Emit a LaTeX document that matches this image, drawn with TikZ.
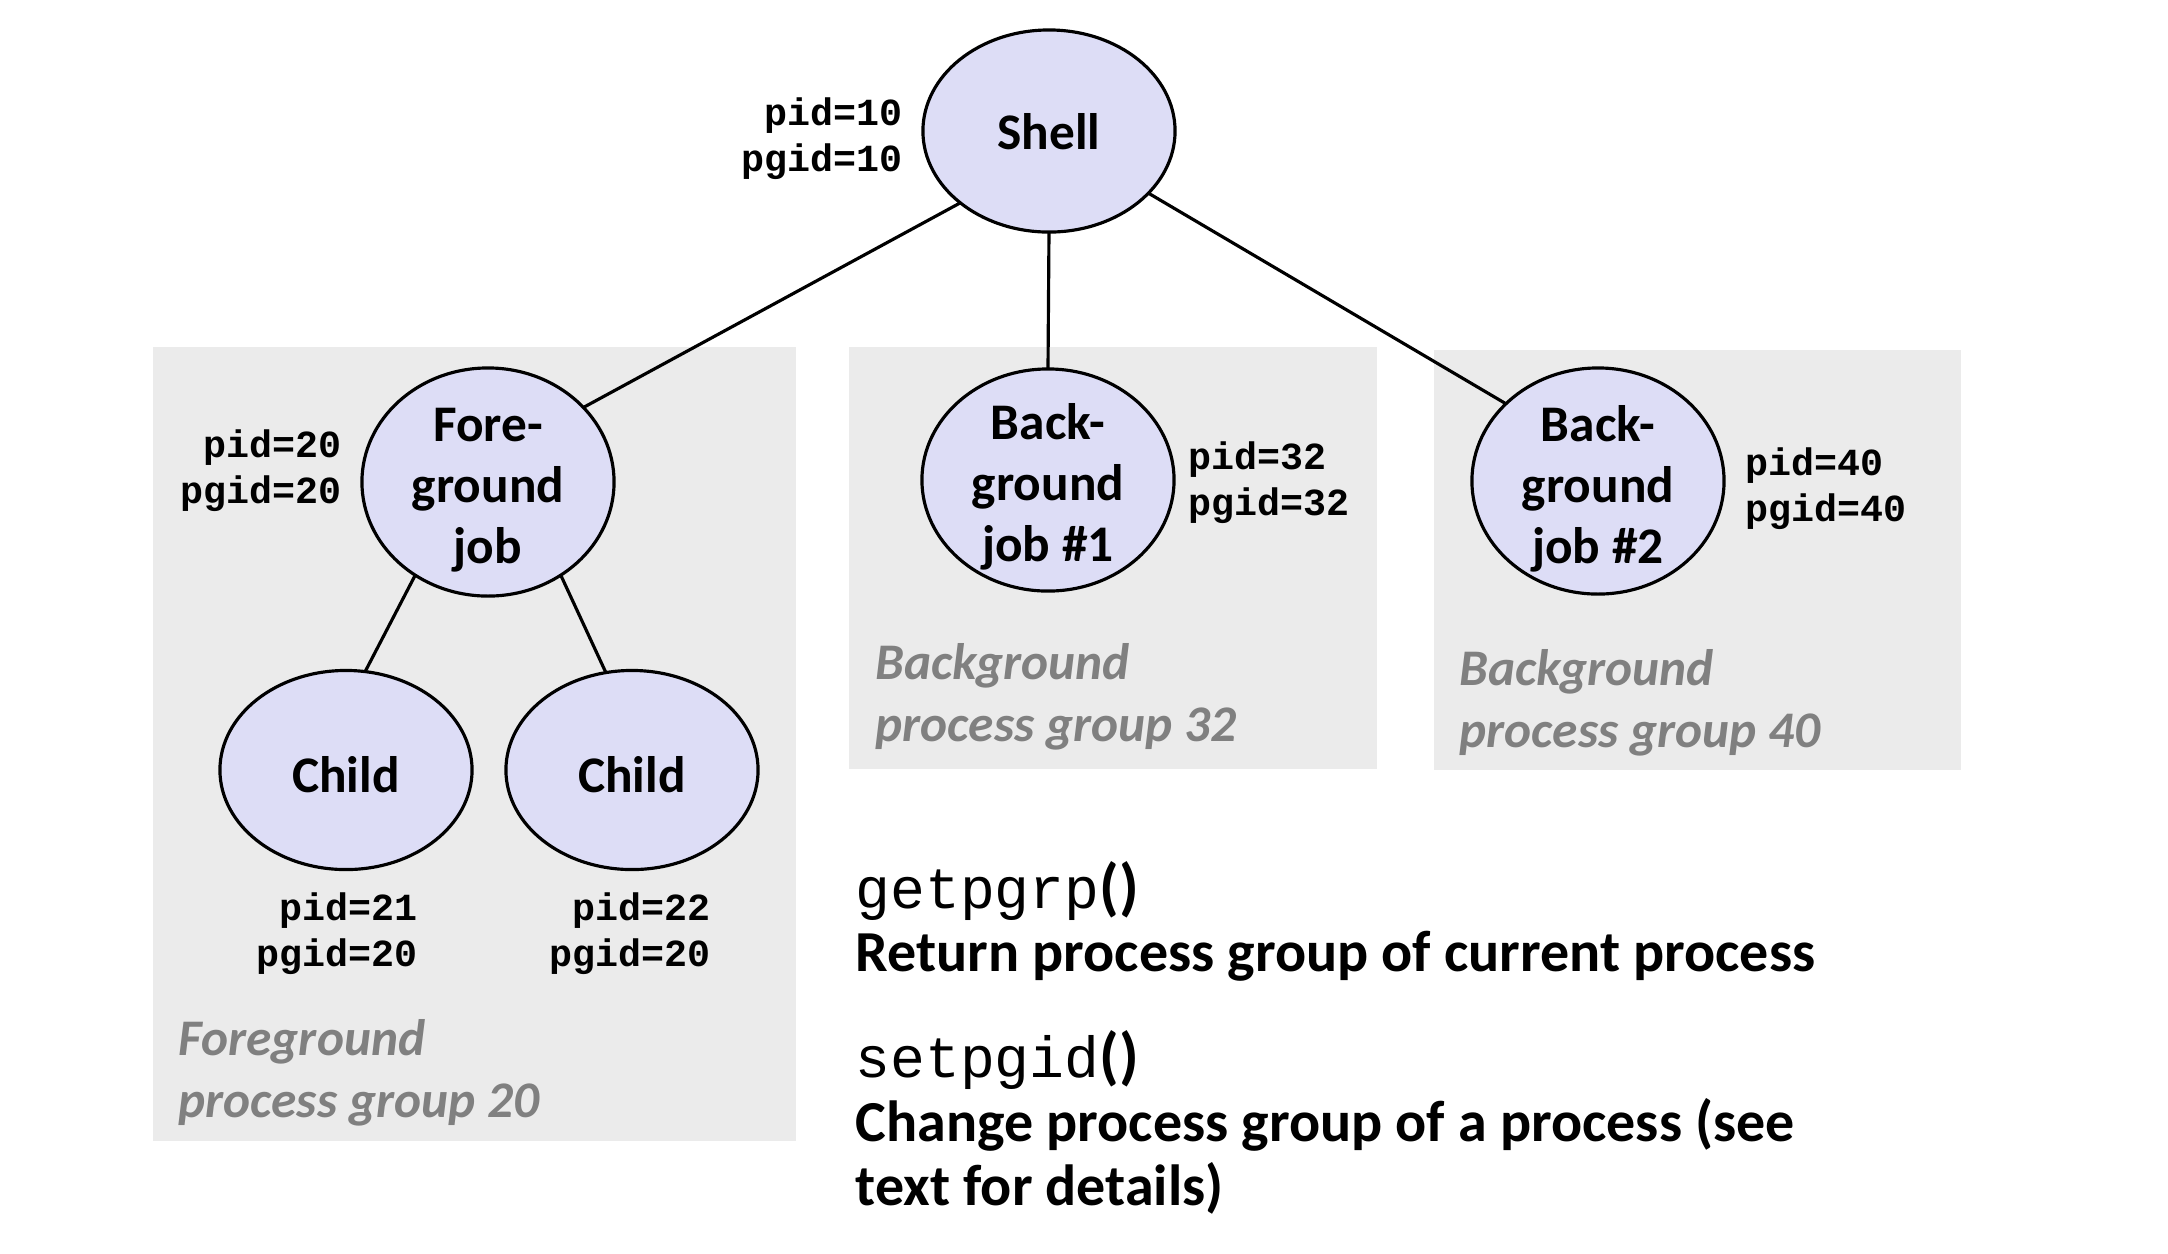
\documentclass[tikz,border=0pt]{standalone}
\usepackage{fontspec}
\setmainfont{Carlito}
\newfontfamily\monof{Liberation Mono}
\usetikzlibrary{shapes.geometric}
\definecolor{ellfill}{RGB}{221,221,246}
\definecolor{boxgray}{RGB}{235,235,235}
\definecolor{labgray}{RGB}{128,128,128}
\begin{document}
\begin{tikzpicture}[x=0.01cm,y=-0.01cm,
  proc/.style={ellipse,draw=black,line width=0.9pt,fill=ellfill,inner sep=0pt,outer sep=0pt,minimum width=2.52cm},
  ptext/.style={font=\fontsize{14.6}{17.4}\selectfont\bfseries,align=center,inner sep=0pt},
  conn/.style={draw=black,line width=0.9pt},
  grp/.style={fill=boxgray,draw=none},
  pidr/.style={font=\monof\fontsize{10.9}{13}\selectfont\bfseries,align=right,anchor=east,inner sep=0pt},
  pidl/.style={font=\monof\fontsize{10.9}{13}\selectfont\bfseries,align=left,anchor=west,inner sep=0pt},
  glab/.style={font=\fontsize{14.6}{17.6}\selectfont\bfseries\itshape,text=labgray,align=left,anchor=west,inner sep=0pt},
  btext/.style={font=\fontsize{16.5}{18.2}\selectfont\bfseries,align=left,anchor=west,inner sep=0pt}
]
\useasboundingbox (0,0) rectangle (2168,1253);
% group boxes
\fill[grp] (153,347) rectangle (796,1141);
\fill[grp] (849,347) rectangle (1377,769);
\fill[grp] (1434,350) rectangle (1961,770);
% ellipses
\node[proc,minimum height=2.02cm] (shell) at (1049,131) {};
\node[proc,minimum height=2.28cm] (fg) at (488,482) {};
\node[proc,minimum height=2.22cm] (bg1) at (1048,480) {};
\node[proc,minimum height=2.26cm] (bg2) at (1598,481) {};
\node[proc,minimum height=1.99cm] (c1) at (346,770) {};
\node[proc,minimum height=1.99cm] (c2) at (632,770) {};
% connectors
\draw[conn] (shell.219) -- (fg.38);
\draw[conn] (shell.south) -- (bg1.north);
\draw[conn] (shell.-32) -- (bg2.140);
\draw[conn] (fg.232) -- (c1.79);
\draw[conn] (fg.-52) -- (c2.105);
% ellipse texts
\node[ptext] (tshell) at (1049,132) {Shell};
\node[ptext] (tfg) at (488,490) {Fore-\\ground\\job};
\node[ptext] (tbg1) at (1048,487) {Back-\\ground\\job \#1};
\node[ptext] (tbg2) at (1598,489) {Back-\\ground\\job \#2};
\node[ptext] (tc1) at (346,775) {Child};
\node[ptext] (tc2) at (632,775) {Child};
% pid labels
\node[pidr] (pshell) at (903,139) {pid=10\\pgid=10};
\node[pidr] (pfg) at (342,471) {pid=20\\pgid=20};
\node[pidl] (pbg1) at (1188,483) {pid=32\\pgid=32};
\node[pidl] (pbg2) at (1745,489) {pid=40\\pgid=40};
\node[pidr] (pc1) at (418,934) {pid=21\\pgid=20};
\node[pidr] (pc2) at (711,934) {pid=22\\pgid=20};
% group labels
\node[glab] (gfg) at (178,1073) {Foreground\\process group 20};
\node[glab] (gbg1) at (875,697) {Background\\process group 32};
\node[glab] (gbg2) at (1459,703) {Background\\process group 40};
% bottom text
\node[btext] (f1) at (855,891) {{\monof\mdseries\fontsize{16.5}{18}\selectfont getpgrp}{\fontsize{18}{18}\selectfont()}};
\node[btext] (d1) at (855,956) {Return process group of current process};
\node[btext] (f2) at (855,1060) {{\monof\mdseries\fontsize{16.5}{18}\selectfont setpgid}{\fontsize{18}{18}\selectfont()}};
\node[btext] (d2) at (855,1156) {Change process group of a process (see\\text for details)};
\end{tikzpicture}
\end{document}
